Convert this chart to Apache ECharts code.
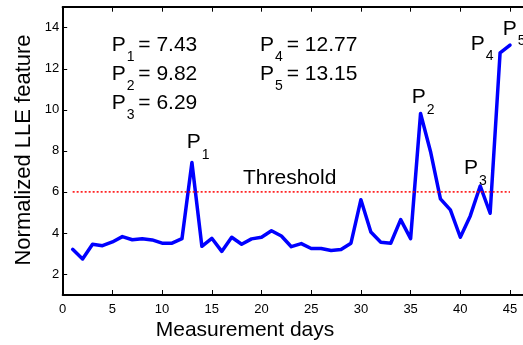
<!DOCTYPE html>
<html>
<head>
<meta charset="utf-8">
<script src="https://cdn.jsdelivr.net/npm/echarts@6/dist/echarts.min.js"></script>
<style>
html,body{margin:0;padding:0;background:#fff;}
#chart{width:523px;height:345px;}
</style>
</head>
<body>
<div id="chart"></div>
<script>
// ---- data ----
const days = [1,2,3,4,5,6,7,8,9,10,11,12,13,14,15,16,17,18,19,20,21,22,23,24,25,26,27,28,29,30,31,32,33,34,35,36,37,38,39,40,41,42,43,44,45];
const lleFeature = [3.20,2.73,3.45,3.38,3.56,3.82,3.67,3.72,3.66,3.50,3.50,3.72,7.43,3.35,3.74,3.10,3.79,3.45,3.71,3.79,4.11,3.85,3.33,3.48,3.24,3.24,3.14,3.19,3.50,5.62,4.05,3.55,3.50,4.65,3.72,9.82,7.97,5.66,5.12,3.79,4.83,6.29,4.96,12.77,13.15];
const thresholdValue = 6;
const thresholdDays = [1, 45];
const peakIds = ['1','2','3','4','5'];
const peakDays = [13, 36, 42, 44, 45];
const peakValues = [7.43, 9.82, 6.29, 12.77, 13.15];
const xTickLabels = [0,5,10,15,20,25,30,35,40,45];
const yTickLabels = [2,4,6,8,10,12,14];
const xTitle = 'Measurement days';
const yTitle = 'Normalized LLE feature';
const thresholdLabel = 'Threshold';

// ---- chart ----
const FONT = '"Liberation Sans", Arial, Helvetica, sans-serif';
const chart = echarts.init(document.getElementById('chart'), null, {renderer: 'canvas'});

const axisLineStyle = {color: '#000', width: 2};
const tickStyle = {show: true, inside: true, length: 4.5, lineStyle: {color: '#000', width: 1}};

chart.setOption({
  animation: false,
  backgroundColor: '#fff',
  grid: {left: 62.7, width: 467.2, top: 7.2, height: 287.3, containLabel: false, outerBoundsMode: 'none'},
  xAxis: [
    {
      type: 'value', min: 0, max: 47, interval: 5, position: 'bottom',
      axisLine: {show: true, onZero: false, lineStyle: axisLineStyle},
      axisTick: tickStyle,
      axisLabel: {show: true, margin: 8, color: '#000', fontSize: 13, fontFamily: FONT,
        formatter: v => xTickLabels.indexOf(v) >= 0 ? String(v) : ''},
      splitLine: {show: false}
    },
    {
      type: 'value', min: 0, max: 47, interval: 5, position: 'top',
      axisLine: {show: true, onZero: false, lineStyle: axisLineStyle},
      axisTick: tickStyle,
      axisLabel: {show: false},
      splitLine: {show: false}
    }
  ],
  yAxis: [
    {
      type: 'value', min: 1, max: 15, splitNumber: 7, position: 'left',
      axisLine: {show: true, onZero: false, lineStyle: axisLineStyle},
      axisTick: tickStyle,
      axisLabel: {show: true, margin: 3.5, color: '#000', fontSize: 13, fontFamily: FONT,
        formatter: v => yTickLabels.indexOf(v) >= 0 ? String(v) : ''},
      splitLine: {show: false}
    }
  ],
  series: [
    {
      type: 'line', xAxisIndex: 0, yAxisIndex: 0,
      data: days.map((d, i) => [d, lleFeature[i]]),
      symbol: 'none', showSymbol: false,
      lineStyle: {color: '#0000ff', width: 3.5, join: 'round', cap: 'round'},
      z: 2
    },
    {
      type: 'line', xAxisIndex: 0, yAxisIndex: 0,
      data: thresholdDays.map(d => [d, thresholdValue]),
      symbol: 'none', showSymbol: false,
      lineStyle: {color: '#ff0000', width: 1.5, type: [2, 2]},
      z: 3
    }
  ]
});

// ---- annotations ----
const MID = 0.3465;
function txt(x, baseline, text, size, align) {
  return {type: 'text', x: x, y: baseline - MID * size, silent: true, z: 10,
    style: {text: text, fontSize: size, fontFamily: FONT, fill: '#000',
      align: align || 'left', verticalAlign: 'middle'}};
}
function pLabel(x0, b, id, rest) {
  const els = [txt(x0, b, 'P', 21), txt(x0 + 15, b + 10, id, 14)];
  if (rest) els.push(txt(x0 + 26.6, b, rest, 21));
  return els;
}
const graphics = [];
// value list
const listPos = [[111.7, 52], [111.7, 81], [111.7, 110], [260.1, 52], [260.1, 81]];
peakIds.forEach((id, i) => {
  graphics.push(...pLabel(listPos[i][0], listPos[i][1], id, '= ' + peakValues[i].toFixed(2)));
});
// peak labels near points
const peakOffsets = [[-5.2, -13], [-8.8, -8.7], [-16.1, -10], [-29.3, -1.6], [-7.3, -8.7]];
peakIds.forEach((id, i) => {
  const p = chart.convertToPixel({xAxisIndex: 0, yAxisIndex: 0}, [peakDays[i], peakValues[i]]);
  graphics.push(...pLabel(p[0] + peakOffsets[i][0], p[1] + peakOffsets[i][1], id, null));
});
// threshold text
graphics.push(txt(289.7, 185, thresholdLabel, 21, 'center'));
// axis titles
graphics.push(txt(245, 337.3, xTitle, 21, 'center'));
graphics.push({type: 'text', x: 24.1, y: 150, rotation: Math.PI / 2, silent: true, z: 10,
  style: {text: yTitle, fontSize: 22, fontFamily: FONT, fill: '#000', align: 'center', verticalAlign: 'middle'}});

chart.setOption({graphic: graphics});
</script>
</body>
</html>
